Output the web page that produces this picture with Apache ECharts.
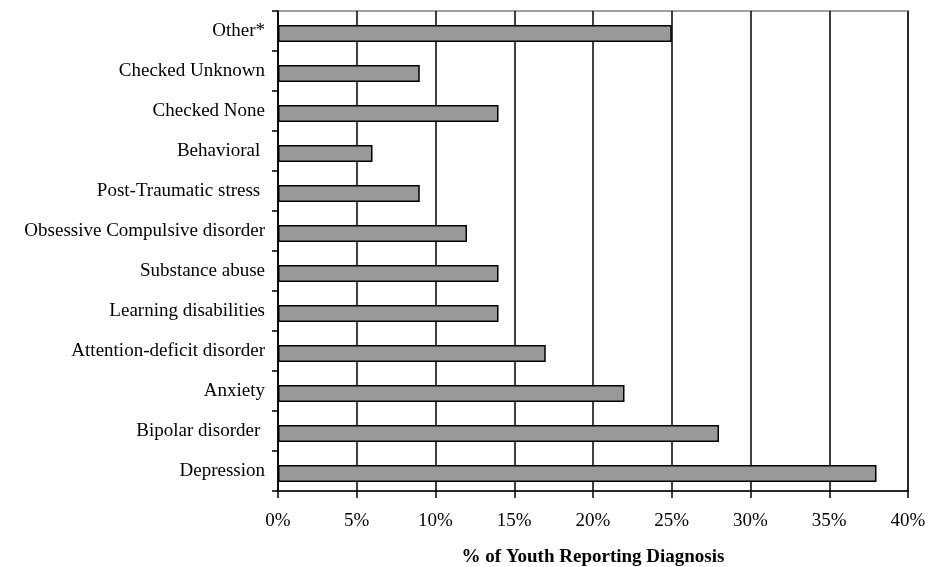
<!DOCTYPE html>
<html>
<head>
<meta charset="utf-8">
<script src="https://cdn.jsdelivr.net/npm/echarts@6/dist/echarts.min.js"></script>
<style>
  html, body { margin: 0; padding: 0; background: #fff; }
  #chart { width: 930px; height: 567px; }
</style>
</head>
<body>
<div id="chart"></div>
<script>
// Diagnoses listed top to bottom
const categories = [
  'Other*',
  'Checked Unknown',
  'Checked None',
  'Behavioral ',
  'Post-Traumatic stress ',
  'Obsessive Compulsive disorder',
  'Substance abuse',
  'Learning disabilities',
  'Attention-deficit disorder',
  'Anxiety',
  'Bipolar disorder ',
  'Depression'
];
// Percent of youth reporting each diagnosis
const percentages = [25, 9, 14, 6, 9, 12, 14, 14, 17, 22, 28, 38];
const xTicks = { min: 0, max: 40, interval: 5 };
const axisTitle = '% of Youth Reporting Diagnosis';

const serif = '"Liberation Serif", "DejaVu Serif", serif';

const chart = echarts.init(document.getElementById('chart'), null, { renderer: 'canvas' });
chart.setOption({
  animation: false,
  backgroundColor: '#ffffff',
  grid: {
    left: 278, right: 22, top: 11, bottom: 76,
    show: true,
    borderColor: '#a0a0a0',
    borderWidth: 2,
    containLabel: false,
    outerBoundsMode: 'none'
  },
  xAxis: {
    type: 'value',
    min: xTicks.min,
    max: xTicks.max,
    interval: xTicks.interval,
    name: axisTitle,
    nameLocation: 'middle',
    nameGap: 57,
    nameTextStyle: { fontFamily: serif, fontSize: 19, fontWeight: 'bold', color: '#000' },
    axisLine: { show: true, lineStyle: { color: '#000', width: 1.5 } },
    axisTick: { show: true, length: 7, lineStyle: { color: '#000', width: 1.5 } },
    axisLabel: {
      margin: 21,
      fontFamily: serif,
      fontSize: 19,
      color: '#000',
      formatter: v => v + '%'
    },
    splitLine: { show: true, lineStyle: { color: '#000', width: 1.5 } }
  },
  yAxis: {
    type: 'category',
    data: categories,
    inverse: true,
    axisLine: { show: true, lineStyle: { color: '#000', width: 1.5 } },
    axisTick: { show: true, length: 6, lineStyle: { color: '#000', width: 1.5 } },
    axisLabel: {
      margin: 13,
      fontFamily: serif,
      fontSize: 19,
      color: '#000'
    },
    splitLine: { show: false }
  },
  series: [
    {
      // empty spacer that nudges the bars slightly below the band centre
      type: 'bar',
      data: categories.map(() => null),
      barWidth: 5,
      barGap: '0%',
      silent: true
    },
    {
      type: 'bar',
      data: percentages,
      barWidth: 17,
      itemStyle: {
        color: '#999999',
        borderColor: '#000',
        borderWidth: 1.5
      }
    }
  ]
});
</script>
</body>
</html>
